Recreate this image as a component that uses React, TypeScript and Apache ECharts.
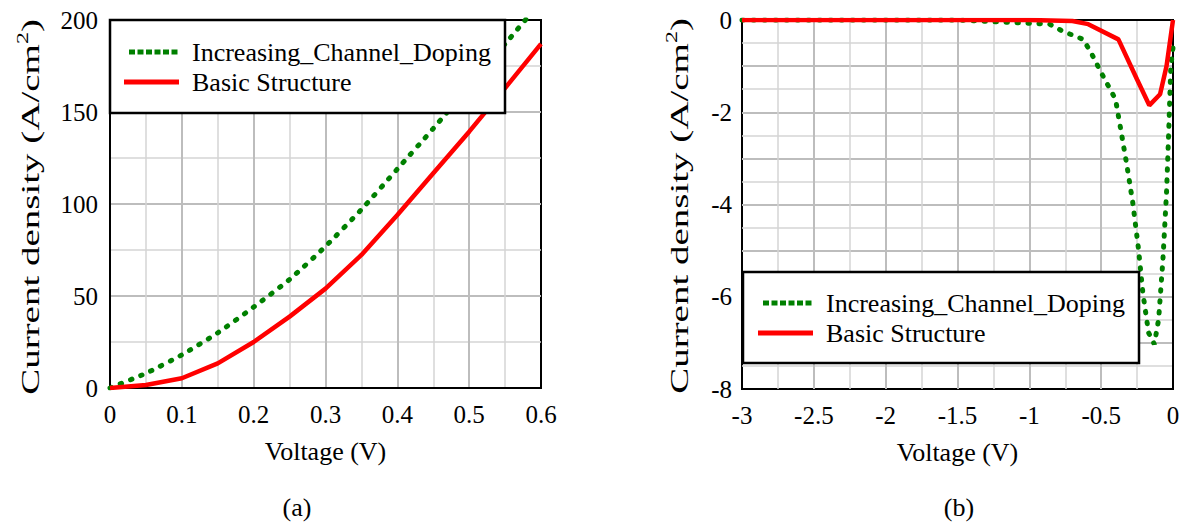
import React, { useEffect, useRef } from "react";
import * as echarts from "echarts";

// ---- Data (a): forward bias ----
const leftVoltage = [0, 0.05, 0.1, 0.15, 0.2, 0.25, 0.3, 0.35, 0.4, 0.45, 0.5, 0.55, 0.6];
const leftDopingCurrent = [0, 8, 18, 30, 44, 59, 77, 97, 119, 141, 164, 187, 210];
const leftBasicCurrent = [0, 1.6, 5.3, 13.4, 25, 38.8, 54, 72.3, 94, 116.7, 139.3, 163, 187];

// ---- Data (b): reverse bias ----
const rightDopingVoltage = [-3, -1.5, -1.23, -0.86, -0.77, -0.625, -0.57, -0.5, -0.4, -0.36, -0.32, -0.28, -0.24, -0.21, -0.17, -0.13, -0.1, -0.07, -0.045, -0.03, -0.015, 0];
const rightDopingCurrent = [0, 0, -0.04, -0.09, -0.24, -0.42, -0.71, -1.14, -1.72, -2.44, -3.17, -3.96, -4.97, -5.91, -6.78, -7.03, -6.49, -5.19, -3.74, -2.44, -1.0, -0.6];
const rightBasicVoltage = [-3, -1.0, -0.7, -0.59, -0.38, -0.25, -0.165, -0.09, -0.045, 0];
const rightBasicCurrent = [0, 0, -0.02, -0.09, -0.42, -1.29, -1.85, -1.61, -1.0, 0];

const seriesNames = ["Increasing_Channel_Doping", "Basic Structure"];
const panelLabels = ["(a)", "(b)"];
const xTitle = "Voltage (V)";

const FONT = "Liberation Serif";
const GREEN = "#008000";
const RED = "#ff0000";

const zip = (xs: number[], ys: number[]) => xs.map((x, i) => [x, ys[i]]);

const majorLine = { show: true, showMinLine: false, showMaxLine: false, lineStyle: { color: "#bdbdbd", width: 2 } };
const minorLine = { show: true, lineStyle: { color: "#d4d4d4", width: 1.5 } };
const labelStyle = { color: "#000", fontFamily: FONT, fontSize: 25 };

function makeXAxis(gridIndex: number, min: number, max: number, interval: number) {
  return {
    type: "value",
    gridIndex,
    min,
    max,
    interval,
    name: xTitle,
    nameLocation: "middle",
    nameGap: 50,
    nameTextStyle: { color: "#000", fontFamily: FONT, fontSize: 26 },
    axisLine: { show: true, lineStyle: { color: "#000", width: 2 } },
    axisTick: { show: false },
    axisLabel: { ...labelStyle, margin: 14 },
    splitLine: majorLine,
    minorTick: { show: false, splitNumber: 2 },
    minorSplitLine: minorLine,
  };
}

function legendGraphics(x: number, y: number, w: number, h: number, sx: number, tx: number, y1: number, y2: number) {
  return [
    { type: "rect", z: 100, shape: { x, y, width: w, height: h }, style: { fill: "#fff", stroke: "#000", lineWidth: 2.5 } },
    { type: "line", z: 101, shape: { x1: sx + 5, y1, x2: tx - 13, y2: y1 }, style: { stroke: GREEN, lineWidth: 5, lineDash: [6, 2.5] } },
    { type: "line", z: 101, shape: { x1: sx, y1: y2, x2: tx - 13, y2 }, style: { stroke: RED, lineWidth: 5 } },
    { type: "text", z: 101, x: tx, y: y1, style: { text: seriesNames[0], fontFamily: FONT, fontSize: 26, fill: "#000", align: "left", verticalAlign: "middle" } },
    { type: "text", z: 101, x: tx, y: y2, style: { text: seriesNames[1], fontFamily: FONT, fontSize: 26, fill: "#000", align: "left", verticalAlign: "middle" } },
  ];
}

function yTitle(cx: number, cy: number) {
  return {
    type: "text",
    z: 101,
    x: cx,
    y: cy,
    rotation: Math.PI / 2,
    scaleX: 1.5,
    style: {
      text: "Current density (A/cm{sup|2})",
      fontFamily: FONT,
      fontSize: 26,
      fill: "#000",
      align: "center",
      verticalAlign: "middle",
      lineHeight: 30,
      rich: { sup: { fontFamily: FONT, fontSize: 16, fill: "#000", verticalAlign: "top", lineHeight: 16 } },
    },
  };
}

export default function App() {
  const ref = useRef<HTMLDivElement>(null);
  useEffect(() => {
    if (!ref.current) return;
    const chart = echarts.init(ref.current, null, { renderer: "svg" });
    const option: any = {
      animation: false,
      backgroundColor: "#fff",
      textStyle: { fontFamily: FONT },
      grid: [
        { left: 110, top: 20, width: 431, height: 368, show: true, borderColor: "#000", borderWidth: 2, backgroundColor: "#fff" },
        { left: 742, top: 20, width: 431, height: 369, show: true, borderColor: "#000", borderWidth: 2, backgroundColor: "#fff" },
      ],
      xAxis: [makeXAxis(0, 0, 0.6, 0.1), makeXAxis(1, -3, 0, 0.5)],
      yAxis: [
        {
          type: "value",
          gridIndex: 0,
          min: 0,
          max: 200,
          interval: 50,
          axisLine: { show: true, lineStyle: { color: "#000", width: 2 } },
          axisTick: { show: false },
          axisLabel: { ...labelStyle, margin: 12 },
          splitLine: majorLine,
          minorTick: { show: false, splitNumber: 2 },
          minorSplitLine: minorLine,
        },
        {
          type: "value",
          gridIndex: 1,
          min: -8,
          max: 0,
          interval: 1,
          axisLine: { show: true, lineStyle: { color: "#000", width: 2 } },
          axisTick: { show: false },
          axisLabel: { ...labelStyle, margin: 10, formatter: (v: number) => (Math.round(v) % 2 === 0 ? String(v) : "") },
          splitLine: majorLine,
          minorTick: { show: false, splitNumber: 2 },
          minorSplitLine: minorLine,
        },
      ],
      series: [
        {
          name: seriesNames[0], type: "line", xAxisIndex: 0, yAxisIndex: 0, showSymbol: false, symbol: "none",
          data: zip(leftVoltage, leftDopingCurrent), smooth: 0.2,
          lineStyle: { color: GREEN, width: 5, type: [1.5, 9.5], cap: "round" },
        },
        {
          name: seriesNames[1], type: "line", xAxisIndex: 0, yAxisIndex: 0, showSymbol: false, symbol: "none",
          data: zip(leftVoltage, leftBasicCurrent),
          lineStyle: { color: RED, width: 4.5 },
        },
        {
          name: seriesNames[0], type: "line", xAxisIndex: 1, yAxisIndex: 1, showSymbol: false, symbol: "none",
          data: zip(rightDopingVoltage, rightDopingCurrent),
          lineStyle: { color: GREEN, width: 5, type: [1.5, 9.5], cap: "round" },
        },
        {
          name: seriesNames[1], type: "line", xAxisIndex: 1, yAxisIndex: 1, showSymbol: false, symbol: "none",
          data: zip(rightBasicVoltage, rightBasicCurrent),
          lineStyle: { color: RED, width: 4.5 },
        },
      ],
      graphic: [
        ...legendGraphics(110, 20, 395, 93, 124, 192, 52, 82),
        ...legendGraphics(743, 272, 396, 91, 758, 826, 303, 333),
        yTitle(30, 207),
        yTitle(679, 206),
        { type: "text", x: 297, y: 507, style: { text: panelLabels[0], fontFamily: FONT, fontSize: 26, fill: "#000", align: "center", verticalAlign: "middle" } },
        { type: "text", x: 959, y: 507, style: { text: panelLabels[1], fontFamily: FONT, fontSize: 26, fill: "#000", align: "center", verticalAlign: "middle" } },
      ],
    };
    chart.setOption(option);
    return () => chart.dispose();
  }, []);
  return <div ref={ref} style={{ position: "fixed", left: 0, top: 0, width: 1185, height: 525 }} />;
}
